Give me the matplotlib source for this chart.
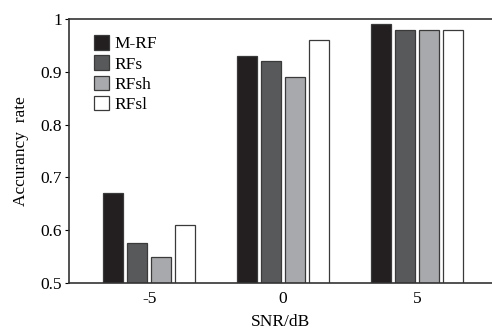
import numpy as np
import matplotlib.pyplot as plt

plt.rcParams['font.family'] = ['Liberation Serif', 'DejaVu Serif']

snr = ['-5', '0', '5']
methods = ['M-RF', 'RFs', 'RFsh', 'RFsl']
m_rf = [0.67, 0.93, 0.99]
rfs = [0.575, 0.92, 0.98]
rfsh = [0.55, 0.89, 0.98]
rfsl = [0.61, 0.96, 0.98]
colors = ['#231f20', '#58595b', '#a7a9ac', '#ffffff']

fig = plt.figure(figsize=(4.92, 3.35), dpi=100)
ax = fig.add_axes([69 / 492, (335 - 283) / 335, 1 - 69 / 492, 264 / 335])

x = np.arange(len(snr))
width = 0.15
pitch = 0.18
for i, (vals, name) in enumerate(zip([m_rf, rfs, rfsh, rfsl], methods)):
    ax.bar(x + (i - 1.5) * pitch, vals, width, bottom=0, color=colors[i],
           edgecolor='#3a3a3a', linewidth=0.9, label=name)

ax.set_ylim(0.5, 1.0)
ax.set_xlim(-0.6, 2.56)
ax.set_xticks(x)
ax.set_xticklabels(snr)
ax.set_yticks([0.5, 0.6, 0.7, 0.8, 0.9, 1.0])
ax.set_yticklabels(['0.5', '0.6', '0.7', '0.8', '0.9', '1'])
ax.tick_params(axis='x', length=0, labelsize=12.5, pad=6)
ax.tick_params(axis='y', length=3, direction='out', labelsize=12.5, pad=2)
ax.spines['right'].set_visible(False)
for s in ['left', 'top', 'bottom']:
    ax.spines[s].set_linewidth(1.2)
    ax.spines[s].set_color('#333333')

ax.set_xlabel('SNR/dB', fontsize=12.5, labelpad=5)
ax.set_ylabel('Accurancy  rate', fontsize=12.5, labelpad=8)

ax.legend(loc='upper left', frameon=False, fontsize=12.5, handlelength=0.9,
          handleheight=0.9, handletextpad=0.3, labelspacing=0.18,
          borderaxespad=0.3, bbox_to_anchor=(0.03, 0.985))

fig.savefig('out.png', dpi=100)
